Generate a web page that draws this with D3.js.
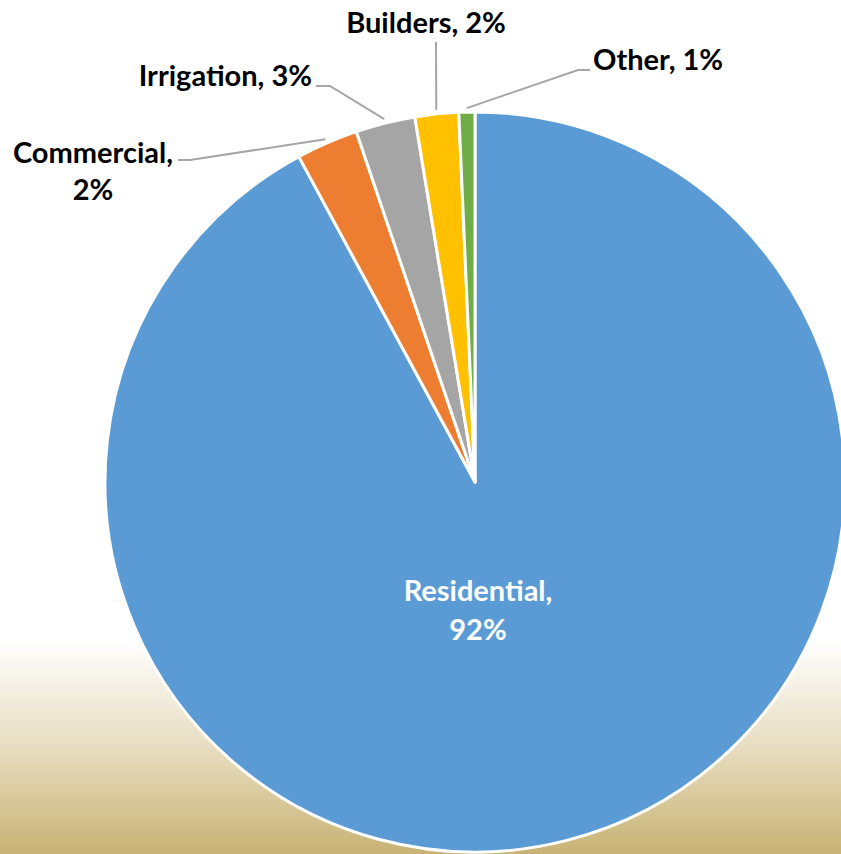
<!DOCTYPE html>
<html>
<head>
<meta charset="utf-8">
<script src="https://cdn.jsdelivr.net/npm/d3@7"></script>
<style>
  body { margin: 0; }
  svg { display: block; }
  text { font-family: Lato, "Open Sans", sans-serif; font-weight: bold; }
</style>
</head>
<body>
<div id="chart"></div>
<script>
const categories = ["Residential", "Commercial", "Irrigation", "Builders", "Other"]
const shares = [92.1, 2.7, 2.6, 1.9, 0.7]
const pctLabels = ["92%", "2%", "3%", "2%", "1%"]
const colors = ["#5b9bd5", "#ed7d31", "#a5a5a5", "#ffc000", "#70ad47"]

// label placement for the outside labels (elbow point, end of leader, text anchor point)
const labelLayout = {
    Commercial: {elbow: [190, 160], end: [178, 160], text: [93, 163], lines: ["Commercial,", "2%"], anchor: "middle"},
    Irrigation: {elbow: [330, 86], end: [316, 86], text: [312, 86], lines: ["Irrigation, 3%"], anchor: "end"},
    Builders: {elbow: [436, 42], end: null, text: [426, 33], lines: ["Builders, 2%"], anchor: "middle"},
    Other: {elbow: [578, 70], end: [590, 70], text: [593, 70], lines: ["Other, 1%"], anchor: "start"}
}

let outerWidth = 841
let outerHeight = 854
let cx = 475, cy = 482, radius = 370
let fontSize = 29

const svg = d3.select("#chart")
    .append("svg")
    .attr("width", outerWidth)
    .attr("height", outerHeight)

const defs = svg.append("defs")
const grad = defs.append("linearGradient")
    .attr("id", "bg")
    .attr("x1", 0).attr("y1", 0)
    .attr("x2", 0).attr("y2", 1)
grad.append("stop").attr("offset", "0%").attr("stop-color", "#ffffff")
grad.append("stop").attr("offset", "75%").attr("stop-color", "#ffffff")
grad.append("stop").attr("offset", "88%").attr("stop-color", "#e6dbbd")
grad.append("stop").attr("offset", "100%").attr("stop-color", "#c8b374")

svg.append("rect")
    .attr("width", outerWidth)
    .attr("height", outerHeight)
    .attr("fill", "url(#bg)")

const data = categories.map((c, i) => ({name: c, value: shares[i], pct: pctLabels[i]}))

const colorScale = d3.scaleOrdinal()
    .domain(categories)
    .range(colors)

const pie = d3.pie()
    .sort(null)
    .value(d => d.value)

const arc = d3.arc()
    .innerRadius(0)
    .outerRadius(radius)

const arcs = pie(data)

const g = svg.append("g")
    .attr("transform", `translate(${cx}, ${cy})`)

g.selectAll(".slice")
    .data(arcs)
    .enter()
    .append("path")
    .attr("class", "slice")
    .attr("d", arc)
    .attr("fill", d => colorScale(d.data.name))
    .attr("stroke", "#ffffff")
    .attr("stroke-width", 3)
    .attr("stroke-linejoin", "round")

// leader lines + outside labels
const outside = arcs.filter(d => labelLayout[d.data.name])

outside.forEach(d => {
    const lay = labelLayout[d.data.name]
    const mid = (d.startAngle + d.endAngle) / 2
    const r = radius + 4
    const px = cx + r * Math.sin(mid)
    const py = cy - r * Math.cos(mid)
    let pts = [[px, py], lay.elbow]
    if (lay.end) pts.push(lay.end)
    svg.append("path")
        .attr("d", d3.line()(pts))
        .attr("fill", "none")
        .attr("stroke", "#a6a6a6")
        .attr("stroke-width", 2)

    const t = svg.append("text")
        .attr("x", lay.text[0])
        .attr("y", lay.text[1])
        .attr("text-anchor", lay.anchor)
        .attr("font-size", fontSize)
        .attr("fill", "#000")
    lay.lines.forEach((ln, i) => {
        t.append("tspan")
            .attr("x", lay.text[0])
            .attr("dy", i === 0 ? 0 : 37)
            .text(ln)
    })
})

// inside label for Residential
const res = arcs[0]
const rt = svg.append("text")
    .attr("x", 478)
    .attr("y", 601)
    .attr("text-anchor", "middle")
    .attr("font-size", fontSize)
    .attr("fill", "#ffffff")
rt.append("tspan").attr("x", 478).text(res.data.name + ",")
rt.append("tspan").attr("x", 478).attr("dy", 39).text(res.data.pct)
</script>
</body>
</html>
